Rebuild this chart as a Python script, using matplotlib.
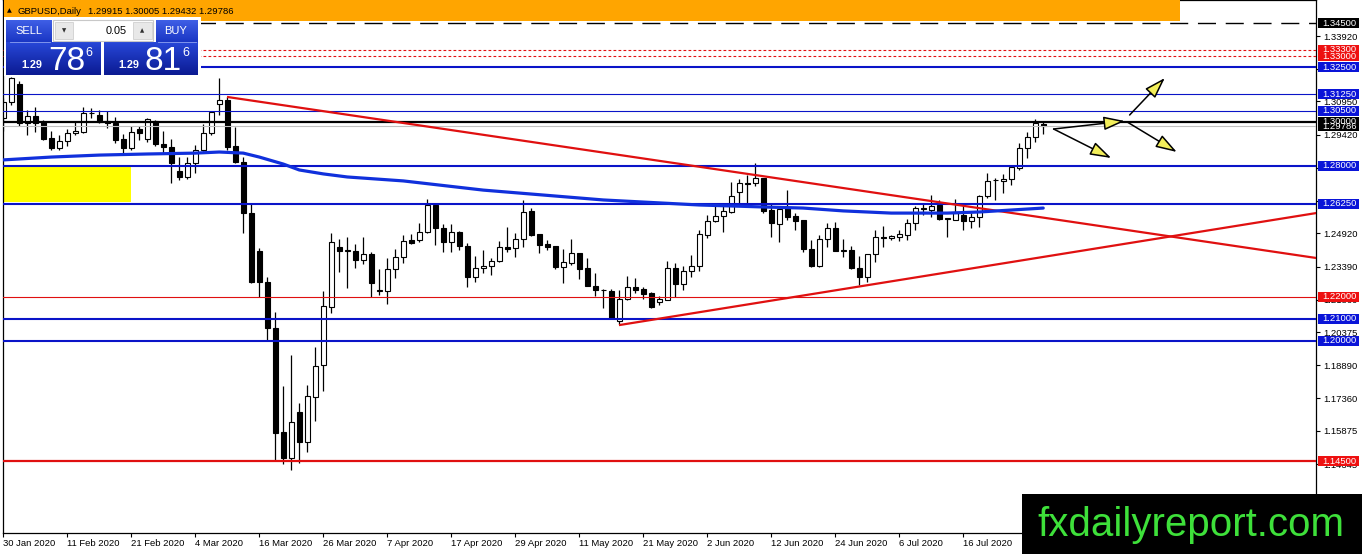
import matplotlib.pyplot as plt
import numpy as np
from matplotlib.patches import Rectangle, FancyArrowPatch
from matplotlib.colors import LinearSegmentedColormap

plt.rcParams['font.family'] = ['Liberation Sans', 'DejaVu Sans']

# daily GBPUSD candles, 30 Jan 2020 .. 30 Jul 2020
opens = [1.3017, 1.3090, 1.3172, 1.2995, 1.3027, 1.3000, 1.2925, 1.2880, 1.2912, 1.2948,
         1.2955, 1.3042, 1.3032, 1.3003, 1.2993, 1.2920, 1.2880, 1.2967, 1.2920, 1.3002,
         1.2898, 1.2885, 1.2775, 1.2748, 1.2812, 1.2870, 1.2948, 1.3082, 1.3100, 1.2890,
         1.2817, 1.2583, 1.2410, 1.2268, 1.2058, 1.1583, 1.1465, 1.1675, 1.1537, 1.1743,
         1.1889, 1.2154, 1.2428, 1.2410, 1.2410, 1.2369, 1.2396, 1.2226, 1.2227, 1.2327,
         1.2382, 1.2460, 1.2460, 1.2497, 1.2620, 1.2515, 1.2451, 1.2497, 1.2433, 1.2291,
         1.2332, 1.2342, 1.2364, 1.2428, 1.2424, 1.2465, 1.2592, 1.2487, 1.2442, 1.2433,
         1.2337, 1.2355, 1.2401, 1.2332, 1.2250, 1.2232, 1.2228, 1.2090, 1.2191, 1.2246,
         1.2236, 1.2219, 1.2177, 1.2187, 1.2332, 1.2259, 1.2318, 1.2341, 1.2483, 1.2547,
         1.2570, 1.2588, 1.2679, 1.2722, 1.2720, 1.2743, 1.2597, 1.2533, 1.2606, 1.2570,
         1.2551, 1.2419, 1.2341, 1.2465, 1.2515, 1.2410, 1.2414, 1.2332, 1.2291, 1.2396,
         1.2474, 1.2471, 1.2474, 1.2483, 1.2538, 1.2606, 1.2597, 1.2620, 1.2560, 1.2551,
         1.2574, 1.2547, 1.2565, 1.2661, 1.2734, 1.2730, 1.2739, 1.2789, 1.2880, 1.2930,
         1.29915]
highs = [1.3110, 1.3205, 1.3186, 1.3054, 1.3068, 1.3010, 1.2958, 1.2940, 1.2967, 1.3005,
         1.3068, 1.3063, 1.3055, 1.3050, 1.3020, 1.2944, 1.2980, 1.2980, 1.3017, 1.3010,
         1.2958, 1.2922, 1.2840, 1.2840, 1.2895, 1.2990, 1.3050, 1.3200, 1.3115, 1.2977,
         1.2840, 1.2630, 1.2424, 1.2290, 1.2131, 1.1793, 1.1935, 1.1715, 1.1797, 1.1971,
         1.2227, 1.2492, 1.2465, 1.2474, 1.2442, 1.2474, 1.2405, 1.2328, 1.2378, 1.2419,
         1.2483, 1.2487, 1.2538, 1.2648, 1.2625, 1.2533, 1.2533, 1.2501, 1.2447, 1.2388,
         1.2415, 1.2378, 1.2456, 1.2520, 1.2492, 1.2643, 1.2606, 1.2487, 1.2460, 1.2433,
         1.2419, 1.2465, 1.2401, 1.2378, 1.2310, 1.2236, 1.2237, 1.2232, 1.2296, 1.2287,
         1.2246, 1.2223, 1.2205, 1.2364, 1.2355, 1.2341, 1.2392, 1.2506, 1.2574, 1.2616,
         1.2629, 1.2725, 1.2739, 1.2757, 1.2811, 1.2743, 1.2625, 1.2606, 1.2688, 1.2583,
         1.2551, 1.2460, 1.2483, 1.2538, 1.2542, 1.2465, 1.2433, 1.2387, 1.2397, 1.2506,
         1.2524, 1.2483, 1.2506, 1.2556, 1.2615, 1.2629, 1.2665, 1.2643, 1.2560, 1.2648,
         1.2624, 1.2583, 1.2665, 1.2766, 1.2743, 1.2761, 1.2802, 1.2903, 1.2953, 1.3013,
         1.30005]
lows = [1.2960, 1.3077, 1.2981, 1.2940, 1.2952, 1.2915, 1.2873, 1.2872, 1.2890, 1.2940,
        1.2950, 1.3017, 1.2995, 1.2972, 1.2903, 1.2853, 1.2870, 1.2917, 1.2910, 1.2890,
        1.2858, 1.2720, 1.2735, 1.2740, 1.2766, 1.2865, 1.2940, 1.3030, 1.2870, 1.2812,
        1.2490, 1.2265, 1.2200, 1.2003, 1.1455, 1.1437, 1.1410, 1.1442, 1.1492, 1.1633,
        1.1770, 1.2127, 1.2314, 1.2240, 1.2332, 1.2351, 1.2200, 1.2210, 1.2168, 1.2286,
        1.2355, 1.2442, 1.2452, 1.2490, 1.2437, 1.2405, 1.2405, 1.2415, 1.2245, 1.2268,
        1.2310, 1.2300, 1.2360, 1.2405, 1.2382, 1.2428, 1.2480, 1.2401, 1.2415, 1.2327,
        1.2264, 1.2346, 1.2282, 1.2250, 1.2205, 1.2150, 1.2100, 1.2076, 1.2187, 1.2218,
        1.2191, 1.2150, 1.2163, 1.2187, 1.2200, 1.2232, 1.2291, 1.2318, 1.2469, 1.2542,
        1.2497, 1.2584, 1.2629, 1.2611, 1.2707, 1.2585, 1.2474, 1.2451, 1.2551, 1.2506,
        1.2405, 1.2337, 1.2337, 1.2428, 1.2410, 1.2383, 1.2328, 1.2255, 1.2268, 1.2360,
        1.2428, 1.2460, 1.2455, 1.2460, 1.2506, 1.2574, 1.2565, 1.2551, 1.2474, 1.2551,
        1.2506, 1.2515, 1.2520, 1.2652, 1.2643, 1.2675, 1.2711, 1.2780, 1.2834, 1.2907,
        1.29432]
closes = [1.3090, 1.3200, 1.2994, 1.3027, 1.2995, 1.2922, 1.2880, 1.2912, 1.2948, 1.2958,
          1.3040, 1.3040, 1.3000, 1.2995, 1.2917, 1.2880, 1.2953, 1.2950, 1.3012, 1.2899,
          1.2885, 1.2812, 1.2748, 1.2812, 1.2872, 1.2948, 1.3045, 1.3100, 1.2884, 1.2815,
          1.2583, 1.2268, 1.2268, 1.2058, 1.1578, 1.1465, 1.1629, 1.1537, 1.1747, 1.1884,
          1.2159, 1.2451, 1.2410, 1.2415, 1.2369, 1.2396, 1.2264, 1.2230, 1.2327, 1.2382,
          1.2456, 1.2446, 1.2497, 1.2620, 1.2515, 1.2451, 1.2497, 1.2433, 1.2291, 1.2332,
          1.2342, 1.2364, 1.2428, 1.2419, 1.2465, 1.2588, 1.2483, 1.2437, 1.2428, 1.2337,
          1.2360, 1.2401, 1.2328, 1.2250, 1.2232, 1.2230, 1.2104, 1.2191, 1.2246, 1.2232,
          1.2214, 1.2154, 1.2191, 1.2332, 1.2259, 1.2318, 1.2341, 1.2487, 1.2547, 1.2570,
          1.2593, 1.2661, 1.2720, 1.2718, 1.2743, 1.2593, 1.2538, 1.2602, 1.2565, 1.2547,
          1.2419, 1.2341, 1.2465, 1.2515, 1.2410, 1.2414, 1.2332, 1.2291, 1.2397, 1.2474,
          1.2469, 1.2478, 1.2487, 1.2538, 1.2606, 1.2602, 1.2616, 1.2556, 1.2556, 1.2583,
          1.2547, 1.2565, 1.2661, 1.2730, 1.2734, 1.2739, 1.2793, 1.2880, 1.2930, 1.2994,
          1.29786]

# moving average (thick blue), sampled from the chart
ma_bar = [0, 6, 12, 18, 24, 27, 30, 32, 35, 37, 40, 43, 50, 60, 75, 87, 95, 100, 105,
          111, 118, 122, 126, 130]
ma_val = [1.2826, 1.2839, 1.2848, 1.2853, 1.2857, 1.2862, 1.2857, 1.2839, 1.2807, 1.2780,
          1.2762, 1.2748, 1.2730, 1.2688, 1.2643, 1.2620, 1.2611, 1.2606, 1.2593, 1.2583,
          1.2583, 1.2588, 1.2597, 1.2606]

date_labels = ["30 Jan 2020", "11 Feb 2020", "21 Feb 2020", "4 Mar 2020", "16 Mar 2020",
               "26 Mar 2020", "7 Apr 2020", "17 Apr 2020", "29 Apr 2020", "11 May 2020",
               "21 May 2020", "2 Jun 2020", "12 Jun 2020", "24 Jun 2020", "6 Jul 2020",
               "16 Jul 2020"]
price_ticks = [1.33920, 1.32435, 1.30950, 1.29420, 1.27890, 1.26360, 1.24920, 1.23390,
               1.21860, 1.20375, 1.18890, 1.17360, 1.15875, 1.14345, 1.12815]

# horizontal levels: (price, colour, width, style)
blue_thick = [1.3250, 1.2800, 1.2625, 1.2100, 1.2000]
blue_thin = [1.3125, 1.3050]
red_dotted = [1.3330, 1.3300]
red_levels = [(1.2200, 0.8), (1.1450, 1.6)]
black_level = 1.3000
dashed_level = 1.3450
bid = 1.29786

# right-axis price labels (drawn in this order)
tags = [(1.34500, 'black'), (1.33000, 'red'), (1.33300, 'red'), (1.32500, 'blue'),
        (1.31250, 'blue'), (1.30500, 'blue'), (1.29786, 'black'), (1.30000, 'black'),
        (1.28000, 'blue'), (1.26250, 'blue'), (1.22000, 'red'), (1.21000, 'blue'),
        (1.20000, 'blue'), (1.14500, 'red')]
tag_colors = {'black': '#000000', 'red': '#ee1010', 'blue': '#0a14d8'}

# trend lines (bar, price)
upper_trend = [(28.1, 1.3113), (164.1, 1.2378)]
lower_trend = [(77.1, 1.2072), (164.1, 1.2583)]
zone = [(-0.05, 1.2634), (15.96, 1.2798)]
arrows = [((131.3, 1.29671), (140.2, 1.30037)),
          ((131.3, 1.29671), (138.5, 1.28346)),
          ((140.8, 1.30311), (145.2, 1.32001)),
          ((140.5, 1.29991), (146.7, 1.28621))]

W, H = 1362, 554
fig = plt.figure(figsize=(W / 100, H / 100), dpi=100)
fig.patch.set_facecolor('white')
ax = fig.add_axes([3 / W, 21 / H, 1313 / W, 533 / H])
ax.set_xlim(-0.04, 164.1)
ax.set_ylim(1.11215, 1.35565)

n = len(opens)
idx = np.arange(n)
o = np.array(opens)
c = np.array(closes)
bull = c >= o
body_lo = np.minimum(o, c)
body_h = np.maximum(np.abs(c - o), 0.00002)

ax.add_patch(Rectangle(zone[0], zone[1][0] - zone[0][0], zone[1][1] - zone[0][1],
                       facecolor='#ffff00', edgecolor='none', zorder=1))

ax.vlines(idx, lows, highs, color='black', lw=0.9, zorder=2)
ax.bar(idx, body_h, bottom=body_lo, width=0.62,
       color=np.where(bull, 'white', 'black'), edgecolor='black', lw=0.8, zorder=2.1)

for p in blue_thick:
    ax.axhline(p, color='#0a14c8', lw=1.5, zorder=3)
for p in blue_thin:
    ax.axhline(p, color='#0a14c8', lw=0.8, zorder=3)
for p in red_dotted:
    ax.axhline(p, color='#e01010', lw=0.8, ls=(0, (2.5, 2)), zorder=3)
for p, w in red_levels:
    ax.axhline(p, color='#e01010', lw=w, zorder=3)
ax.axhline(bid, color='#c0c0c0', lw=0.8, zorder=2.9)
ax.axhline(black_level, color='black', lw=1.6, zorder=3)
ax.axhline(dashed_level, color='black', lw=1.0, ls=(0, (13, 7)), zorder=3)

for line in (upper_trend, lower_trend):
    xs, ys = zip(*line)
    ax.plot(xs, ys, color='#e01010', lw=1.6, zorder=3.5)

ax.plot(ma_bar, ma_val, color='#1030dc', lw=2.3, zorder=4, solid_capstyle='round')

for start, end in arrows:
    ax.add_patch(FancyArrowPatch(start, end, arrowstyle='-|>,head_length=1.3,head_width=0.42',
                                 mutation_scale=10, lw=1.1, edgecolor='black',
                                 facecolor='#f2ee5a', shrinkA=0, shrinkB=0, zorder=6))

ax.set_xticks(idx[::8][:len(date_labels)], date_labels)
for lab in ax.get_xticklabels():
    lab.set_ha('left')
ax.yaxis.tick_right()
ax.set_yticks(price_ticks, [f'{p:.5f}' for p in price_ticks])
ax.tick_params(axis='both', labelsize=6.8, direction='out', length=3, width=0.8,
               color='black', labelcolor='black')
ax.tick_params(axis='x', pad=1)
ax.tick_params(axis='y', pad=2)
for s in ax.spines.values():
    s.set_color('black')
    s.set_linewidth(0.9)

ytr = ax.get_yaxis_transform()
tag_h = 10 / 2189
for p, col in tags:
    ax.add_patch(Rectangle((1.0015, p - tag_h / 2), 0.0315, tag_h, transform=ytr,
                           facecolor=tag_colors[col], edgecolor='none', clip_on=False, zorder=5))
    ax.text(1.0045, p, f'{p:.5f}', transform=ytr, ha='left', va='center',
            color='white', fontsize=6.8, clip_on=False, zorder=5.1)

# overlay in pixel coordinates for the terminal decorations
ov = fig.add_axes([0, 0, 1, 1])
ov.set_xlim(0, W)
ov.set_ylim(H, 0)
ov.axis('off')

ov.add_patch(Rectangle((4, 0), 1176, 21, facecolor='#ffa500', edgecolor='none'))
ov.text(9.5, 11, '▲', fontsize=4.5, ha='center', va='center', family=['DejaVu Sans'])
ov.text(18, 11, 'GBPUSD,Daily', fontsize=6.8, va='center')
ov.text(88, 11, '1.29915 1.30005 1.29432 1.29786', fontsize=6.8, va='center')

btn_cmap = LinearSegmentedColormap.from_list('btn', ['#3f5fe6', '#1a36c4'])
box_cmap = LinearSegmentedColormap.from_list('box', ['#2747d8', '#0b1a92'])
grad = np.linspace(0, 1, 64).reshape(-1, 1)


def grad_box(x0, y0, x1, y1, cmap):
    ov.imshow(grad, cmap=cmap, aspect='auto', extent=[x0, x1, y1, y0], zorder=3,
              interpolation='bilinear')


ov.add_patch(Rectangle((4, 17), 197, 59, facecolor='white', edgecolor='none', zorder=2))
grad_box(6, 20, 52, 42, btn_cmap)
grad_box(156, 20, 198, 42, btn_cmap)
grad_box(6, 42, 101, 75, box_cmap)
grad_box(104, 42, 198, 75, box_cmap)
ov.plot([10, 50], [41.5, 41.5], color='#8ea0f0', lw=0.6, zorder=4)
ov.plot([158, 196], [41.5, 41.5], color='#8ea0f0', lw=0.6, zorder=4)
ov.add_patch(Rectangle((53, 19.5), 100, 21, facecolor='white', edgecolor='#c8c8c8',
                       lw=0.8, zorder=3))
ov.add_patch(Rectangle((55, 22), 18, 17, facecolor='#e8e8e8', edgecolor='#d0d0d0',
                       lw=0.6, zorder=4))
ov.add_patch(Rectangle((133, 22), 19, 17, facecolor='#e8e8e8', edgecolor='#d0d0d0',
                       lw=0.6, zorder=4))
ov.text(64, 30.5, '▼', fontsize=4, ha='center', va='center', color='#303030',
        family=['DejaVu Sans'], zorder=5)
ov.text(142.5, 30.5, '▲', fontsize=4, ha='center', va='center', color='#303030',
        family=['DejaVu Sans'], zorder=5)
ov.text(127, 30.5, '0.05', fontsize=7.8, ha='right', va='center', zorder=5)
ov.text(28.5, 31, 'SELL', fontsize=8, ha='center', va='center', color='white', zorder=5)
ov.text(176, 31, 'BUY', fontsize=8, ha='center', va='center', color='white', zorder=5)

for x_small, x_big, x_sup, big in [(21, 48, 85, '78'), (118, 145, 182, '81')]:
    ov.text(x_small, 68, '1.29', fontsize=7.8, fontweight='bold', color='white',
            va='baseline', zorder=5)
    ov.text(x_big, 70, big, fontsize=24, color='white', va='baseline', zorder=5)
    ov.text(x_sup, 56.5, '6', fontsize=9, color='white', va='baseline', zorder=5)

ov.add_patch(Rectangle((1022, 494), 340, 60, facecolor='black', edgecolor='none', zorder=6))
ov.text(1191, 535.5, 'fxdailyreport.com', fontsize=29, color='#3ee03a', ha='center',
        va='baseline', zorder=7)

fig.savefig('out.png', dpi=100)
